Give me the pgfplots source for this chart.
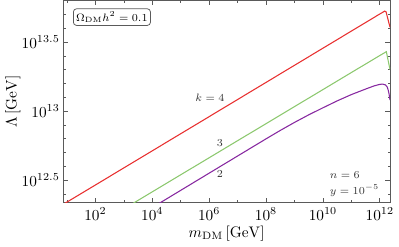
\documentclass[border=0pt]{standalone}
\usepackage{pgfplots}
\pgfplotsset{compat=1.18}
\definecolor{cred}{RGB}{232,48,48}
\definecolor{cgreen}{RGB}{140,200,110}
\definecolor{cpurple}{RGB}{135,40,160}
\definecolor{frame}{RGB}{90,90,90}
\newcommand{\annfont}{\fontsize{7.5}{9}\selectfont}
\begin{document}
\begin{tikzpicture}
\begin{axis}[
  scale only axis,
  width=213.8pt, height=132.2pt,
  xmode=log, ymode=log,
  xmin=7.41, xmax=2.29e12,
  ymin=2.178e12, ymax=6.353e13,
  xtick={1e2,1e4,1e6,1e8,1e10,1e12},
  xticklabels={$10^{2}$,$10^{4}$,$10^{6}$,$10^{8}$,$10^{10}$,$10^{12}$},
  minor xtick={1e1,1e3,1e5,1e7,1e9,1e11},
  ytick={3.1623e12,1e13,3.1623e13},
  yticklabels={$10^{12.5}$,$10^{13}$,$10^{13.5}$},
  minor ytick={2.5119e12,3.9811e12,5.0119e12,6.3096e12,7.9433e12,1.2589e13,1.5849e13,1.9953e13,2.5119e13,3.9811e13,5.0119e13,6.3096e13},
  tick align=inside,
  major tick length=3pt, minor tick length=1.6pt,
  every tick/.style={frame, line width=0.4pt},
  axis line style={frame, line width=0.5pt},
  yticklabel style={xshift=1.2pt},
  xlabel={$m_{\mathrm{DM}}\,[\mathrm{GeV}]$},
  ylabel={$\Lambda\,[\mathrm{GeV}]$},
  xlabel style={yshift=3pt},
  ylabel style={yshift=-6pt},
  clip=true,
]
\addplot[cred, line width=0.7pt] coordinates {
  (7.94,2.128e12) (1e6,9.12e12) (1e12,5.06e13) (1.259e12,5.20e13)
  (1.479e12,5.31e13) (1.66e12,5.25e13) (2.29e12,4.05e13)
};
\addplot[cgreen, line width=0.7pt] coordinates {
  (1995,2.13e12) (1e8,8.11e12) (1e12,2.53e13) (1.413e12,2.636e13)
  (1.698e12,2.698e13) (2.29e12,2.00e13)
};
\addplot[cpurple, line width=0.7pt] coordinates {
  (1e4,2.00e12) (1e6,3.55e12) (1e8,6.295e12) (3.162e8,7.244e12)
  (1e9,8.279e12) (3.162e9,9.397e12) (1e10,1.057e13)
  (3.162e10,1.186e13) (1e11,1.318e13) (3.162e11,1.445e13)
  (6.31e11,1.524e13) (1e12,1.563e13) (1.259e12,1.570e13)
  (1.585e12,1.549e13) (1.82e12,1.496e13) (1.995e12,1.413e13)
  (2.138e12,1.318e13) (2.29e12,1.202e13)
};
\node[text=black!80, font=\annfont] at (axis cs:1.07e6,1.245e13) {$k = 4$};
\node[text=black!80, font=\annfont] at (axis cs:2.415e6,5.89e12) {$3$};
\node[text=black!80, font=\annfont] at (axis cs:2.415e6,3.475e12) {$2$};
\node[text=black!80, font=\annfont, anchor=west, inner sep=0pt] at (axis cs:1.7e10,3.42e12) {$n = 6$};
\node[text=black!80, font=\annfont, anchor=west, inner sep=0pt] at (axis cs:1.7e10,2.655e12) {$y = 10^{-5}$};
\node[draw=frame, font=\annfont, rounded corners=2pt, anchor=north west, inner sep=1.8pt, line width=0.5pt] at (rel axis cs:0.03,0.96) {$\Omega_{\mathrm{DM}}h^2 = 0.1$};
\end{axis}
\end{tikzpicture}
\end{document}
